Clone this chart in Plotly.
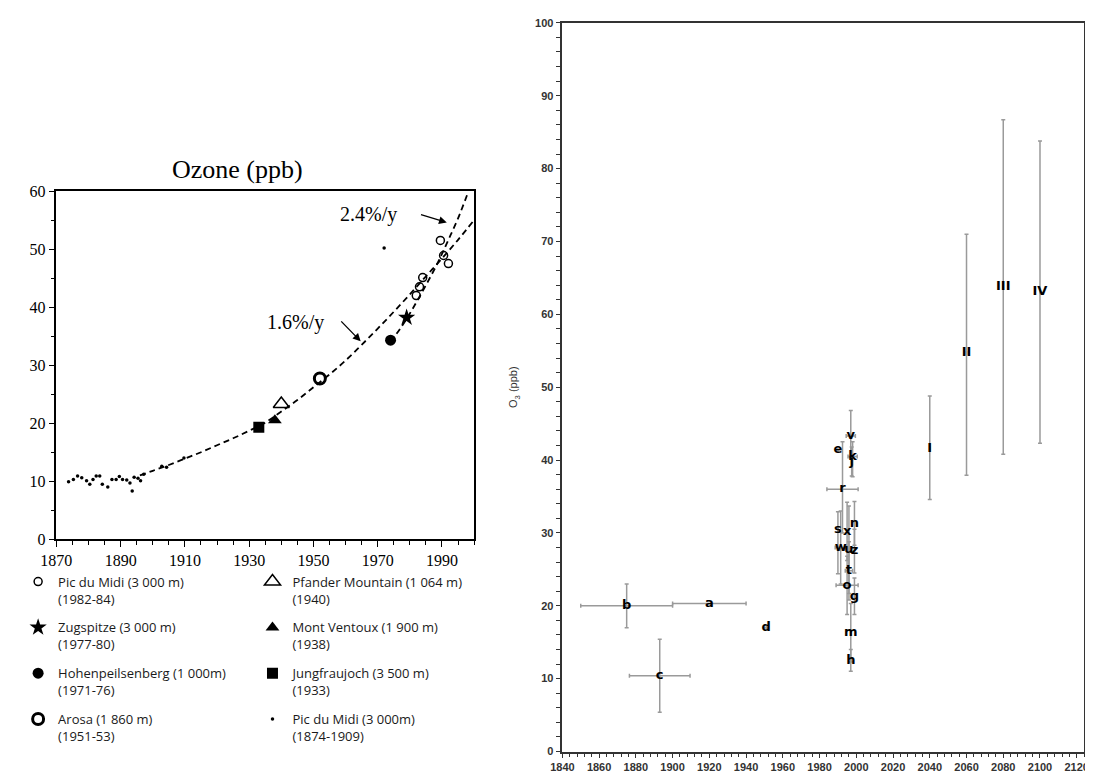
import plotly.graph_objects as go

# ---------------- Left panel data (Ozone, ppb) ----------------
pdm_years = [1982, 1983, 1984, 1989.5, 1990.5, 1992]
pdm_vals = [42.0, 43.5, 45.1, 51.5, 48.9, 47.5]
zug_years = [1979]
zug_vals = [38.2]
hohen_years = [1974]
hohen_vals = [34.3]
arosa_years = [1952]
arosa_vals = [27.7]
pfander_years = [1940]
pfander_vals = [23.3]
ventoux_years = [1938]
ventoux_vals = [20.5]
jungfrau_years = [1933]
jungfrau_vals = [19.3]
dots_years = [1873.8, 1875.3, 1876.6, 1877.9, 1879.4, 1880.4, 1881.4, 1882.4, 1883.5,
              1884.3, 1886.0, 1887.3, 1888.6, 1889.6, 1890.6, 1891.9, 1892.9, 1893.6,
              1894.2, 1895.4, 1896.2, 1897.2, 1902.8, 1904.3, 1909.7, 1972.0]
dots_vals = [9.9, 10.3, 10.9, 10.6, 10.1, 9.5, 10.3, 10.9, 10.9,
             9.5, 9.0, 10.3, 10.3, 10.8, 10.3, 10.2, 9.7, 8.3,
             10.7, 10.5, 10.1, 11.2, 12.6, 12.4, 14.0, 50.2]
trend16_years = [1896, 1900, 1905, 1910, 1915, 1920, 1925, 1930, 1935, 1940, 1945,
                 1950, 1955, 1960, 1965, 1970, 1975, 1980, 1985, 1990, 1995, 2000]
trend16_vals = [11.0, 11.8, 12.8, 13.9, 15.0, 16.2, 17.4, 18.7, 20.1, 22.0, 24.0,
                26.2, 28.4, 30.8, 33.5, 36.3, 39.2, 42.2, 45.3, 48.4, 51.6, 55.0]
trend24_years = [1974, 1977, 1980, 1983, 1986, 1989, 1992, 1995, 1998]
trend24_vals = [34.0, 36.3, 38.9, 41.8, 44.8, 48.0, 51.6, 55.3, 59.6]

# ---------------- Right panel data (O3, ppb) ----------------
r_labels = ["b", "c", "a", "d", "e", "v", "k", "j", "r", "s", "x", "n", "w", "u", "z",
            "t", "o", "g", "m", "h", "I", "II", "III", "IV"]
r_years = [1875, 1893, 1920, 1951, 1990, 1997, 1998, 1997.5, 1992.5, 1990, 1995, 1999,
           1991.5, 1996, 1999, 1996, 1995, 1999, 1997, 1997, 2040, 2060, 2080, 2100]
r_vals = [20.0, 10.4, 20.3, 17.0, 41.4, 43.3, 40.5, 39.8, 36.0, 30.4, 30.2, 31.3,
          28.0, 27.7, 27.5, 24.8, 22.8, 21.3, 16.3, 12.5, 41.6, 54.7, 63.8, 63.1]
r_xerr = [25, 16.5, 20, 0, 0, 2.5, 2.5, 0, 8.5, 0, 0, 0,
          3, 0, 0, 2, 6, 0, 0, 0, 0, 0, 0, 0]
r_yerr_plus = [3, 5, 0, 0, 0, 3.5, 2, 2, 6.5, 2.5, 4, 3,
               5, 6, 3, 4, 4, 2.5, 4, 1.5, 7.2, 16.3, 22.9, 20.7]
r_yerr_minus = [3, 5, 0, 0, 0, 3, 2.8, 2, 6, 6, 4, 3,
                5, 6, 3, 4, 4, 2.5, 4, 1.5, 7.0, 16.8, 23.0, 20.8]

# The page body keeps the browser's default 8px margin, so the figure is made
# 8px smaller and every screen position is shifted by that offset.
OFF = 8
W, H = 1093 - OFF, 783 - OFF


def fx(px):
    return (px - OFF) / W


def fy(py):
    return 1 - (py - OFF) / H


fig = go.Figure()

# trend lines
for xs, ys in ((trend16_years, trend16_vals), (trend24_years, trend24_vals)):
    fig.add_trace(go.Scatter(x=xs, y=ys, mode="lines",
                             line=dict(color="black", width=1.8, dash="6px,4px"),
                             line_shape="spline", showlegend=False, hoverinfo="skip",
                             xaxis="x", yaxis="y"))


def site(name, xs, ys, symbol, size, legend, group, lw=1.5):
    fig.add_trace(go.Scatter(
        x=xs, y=ys, mode="markers", name=name, legend=legend, legendgroup=group,
        marker=dict(symbol=symbol, size=size, color="black", line=dict(color="black", width=lw)),
        xaxis="x", yaxis="y"))


# column 1 of the key
site("Pic du Midi (3 000 m)<br>(1982-84)", pdm_years, pdm_vals, "circle-open", 8, "legend", "g1")
site("Zugspitze (3 000 m)<br>(1977-80)", zug_years, zug_vals, "star", 13, "legend", "g2", lw=0)
site("Hohenpeilsenberg (1 000m)<br>(1971-76)", hohen_years, hohen_vals, "circle", 11, "legend", "g3", lw=0)
site("Arosa (1 860 m)<br>(1951-53)", arosa_years, arosa_vals, "circle-open", 11, "legend", "g4", lw=3)
# column 2 of the key
site("Pfander Mountain (1 064 m)<br>(1940)", pfander_years, pfander_vals, "triangle-up-open", 14, "legend2", "h1")
site("Mont Ventoux (1 900 m)<br>(1938)", ventoux_years, ventoux_vals, "triangle-up", 12, "legend2", "h2", lw=0)
site("Jungfraujoch (3 500 m)<br>(1933)", jungfrau_years, jungfrau_vals, "square", 11, "legend2", "h3", lw=0)
site("Pic du Midi (3 000m)<br>(1874-1909)", dots_years, dots_vals, "circle", 3.5, "legend2", "h4", lw=0)

# right panel
fig.add_trace(go.Scatter(
    x=r_years, y=r_vals, text=r_labels, mode="text", showlegend=False,
    textfont=dict(family="DejaVu Sans", size=13, color="black", weight="bold"),
    error_x=dict(type="data", array=r_xerr, color="#9a9a9a", thickness=1.5, width=2),
    error_y=dict(type="data", array=r_yerr_plus, arrayminus=r_yerr_minus, symmetric=False,
                 color="#9a9a9a", thickness=1.5, width=2),
    xaxis="x2", yaxis="y2"))

serif = "Liberation Serif"
sans = "Liberation Sans"

left_axis = dict(showline=True, linecolor="black", linewidth=1.5, mirror=True, ticks="outside",
                 ticklen=6, tickcolor="black", tickwidth=1.2, showgrid=False, zeroline=False,
                 tickfont=dict(family=serif, size=16, color="black"))
right_axis = dict(showline=True, linecolor="#333333", linewidth=1.5, mirror=True, ticks="outside",
                  ticklen=5, tickcolor="#333333", tickwidth=1.2, showgrid=False, zeroline=False,
                  ticklabeloverflow="allow",
                  tickfont=dict(family=sans, size=11, color="#333333", weight="bold"))

legend_style = dict(yanchor="top", xanchor="left", orientation="v",
                    font=dict(family="Open Sans", size=13, color="#1a1a1a"), valign="top",
                    tracegroupgap=9, bgcolor="rgba(0,0,0,0)", itemsizing="trace")

fig.update_layout(
    width=W, height=H, autosize=False,
    margin=dict(l=0, r=0, t=0, b=0),
    paper_bgcolor="white", plot_bgcolor="white",
    xaxis=dict(left_axis, domain=[fx(41), fx(467)], range=[1870, 2000], tick0=1870, dtick=20,
               minor=dict(dtick=5, tick0=1870, ticks="outside", ticklen=4, tickcolor="black"), anchor="y"),
    yaxis=dict(left_axis, domain=[fy(543), fy(187)], range=[0, 60], dtick=10,
               minor=dict(dtick=5, ticks="outside", ticklen=4, tickcolor="black"), anchor="x"),
    xaxis2=dict(right_axis, domain=[fx(557), fx(1089)], range=[1840, 2124], tick0=1840, dtick=20,
                minor=dict(dtick=4, tick0=1840, ticks="outside", ticklen=4, tickcolor="#333333"), anchor="y2"),
    yaxis2=dict(right_axis, domain=[fy(760), fy(15)], range=[0, 100], dtick=10,
                minor=dict(dtick=2, ticks="outside", ticklen=5, tickcolor="#333333"), anchor="x2",
                title=dict(text="O<sub>3</sub> (ppb)", font=dict(family=sans, size=11, color="#333333"),
                           standoff=15)),
    legend=dict(legend_style, x=fx(2), y=fy(571)),
    legend2=dict(legend_style, x=fx(241), y=fy(571)),
    annotations=[
        dict(text="Ozone (ppb)", xref="paper", yref="paper", x=fx(226), y=fy(165),
             xanchor="center", yanchor="middle", showarrow=False,
             font=dict(family=serif, size=26, color="black")),
        dict(text="2.4%/y", xref="x", yref="y", x=1967, y=55.9, xanchor="center", yanchor="middle",
             showarrow=False, font=dict(family=serif, size=20, color="black")),
        dict(text="", xref="x", yref="y", x=1991.5, y=54.6, ax=1983, ay=56.0, axref="x", ayref="y",
             showarrow=True, arrowhead=2, arrowsize=1.2, arrowwidth=1.3, arrowcolor="black"),
        dict(text="1.6%/y", xref="x", yref="y", x=1944.5, y=37.3, xanchor="center", yanchor="middle",
             showarrow=False, font=dict(family=serif, size=20, color="black")),
        dict(text="", xref="x", yref="y", x=1964.7, y=34.1, ax=1958.2, ay=37.8, axref="x", ayref="y",
             showarrow=True, arrowhead=2, arrowsize=1.2, arrowwidth=1.3, arrowcolor="black"),
    ],
)

fig.write_html("out.html")
